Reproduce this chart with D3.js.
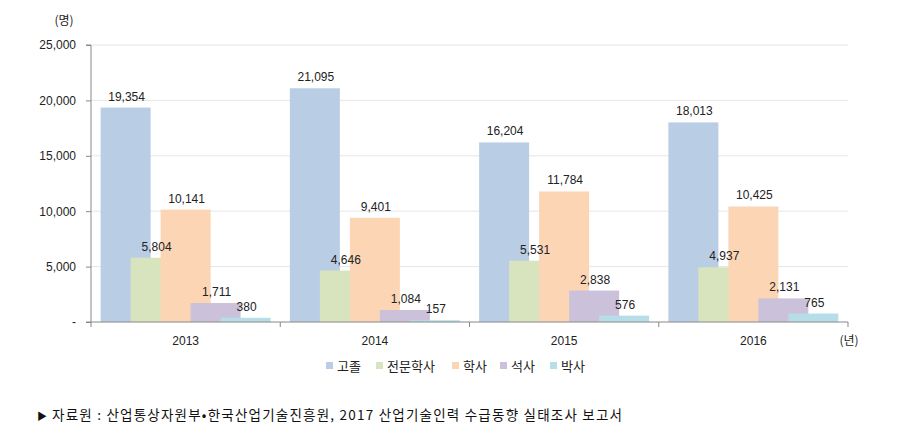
<!DOCTYPE html>
<html>
<head>
<meta charset="utf-8">
<script src="https://cdn.jsdelivr.net/npm/d3@7"></script>
<style>
  body { margin: 0; background: #fff; }
  svg { display: block; }
</style>
</head>
<body>
<div id="chart"></div>
<script>
const years = ['2013', '2014', '2015', '2016'];
const seriesNames = ['고졸', '전문학사', '학사', '석사', '박사'];
const seriesColors = ['#B9CDE5', '#D7E4BD', '#FCD5B5', '#CCC1DA', '#B7DEE8'];
const highSchool = [19354, 21095, 16204, 18013];
const college = [5804, 4646, 5531, 4937];
const bachelor = [10141, 9401, 11784, 10425];
const master = [1711, 1084, 2838, 2131];
const doctor = [380, 157, 576, 765];
const yTicks = [0, 5000, 10000, 15000, 20000, 25000];

const seriesValues = [highSchool, college, bachelor, master, doctor];

const width = 913, height = 441;
const plotLeft = 91, plotRight = 848, plotTop = 45, plotBottom = 322;
const fontNum = '"Liberation Sans", Arial, sans-serif';
const fontKr = '"Noto Sans CJK KR", sans-serif';

const svg = d3.select('#chart')
  .append('svg')
    .attr('width', width)
    .attr('height', height);

const xScale = d3.scaleBand()
  .domain(years)
  .range([plotLeft, plotRight])
  .padding(0);

const yScale = d3.scaleLinear()
  .domain([0, 25000])
  .range([plotBottom, plotTop]);

// bars overlap: each 50 wide, shifted 30 from the previous
const barW = 50, barStep = 30;
const groupW = barStep * (seriesNames.length - 1) + barW;
const barX = (year, s) => xScale(year) + (xScale.bandwidth() - groupW) / 2 + s * barStep;

// grid lines
svg.append('g')
  .selectAll('line')
  .data(yTicks.filter(d => d > 0))
  .enter()
  .append('line')
    .attr('x1', plotLeft)
    .attr('x2', plotRight)
    .attr('y1', d => yScale(d))
    .attr('y2', d => yScale(d))
    .attr('stroke', '#e6e6e6')
    .attr('stroke-width', 1);

// y axis
const yAxis = svg.append('g')
  .attr('transform', `translate(${plotLeft},0)`)
  .call(d3.axisLeft(yScale)
    .tickValues(yTicks)
    .tickSize(5)
    .tickPadding(10)
    .tickFormat(d => d === 0 ? '-' : d3.format(',')(d)));
yAxis.select('.domain').attr('stroke', '#888').attr('d', `M-5,${plotTop}H0V${plotBottom}H-5`);
yAxis.selectAll('.tick line').attr('stroke', '#888');
yAxis.selectAll('.tick text')
  .style('font-family', fontNum)
  .style('font-size', '12px')
  .attr('fill', '#222');

// bars, drawn series by series so later ones sit on top
seriesValues.forEach((vals, s) => {
  svg.append('g')
    .selectAll('rect')
    .data(vals)
    .enter()
    .append('rect')
      .attr('x', (d, i) => barX(years[i], s))
      .attr('y', d => yScale(d))
      .attr('width', barW)
      .attr('height', d => yScale(0) - yScale(d))
      .attr('fill', seriesColors[s]);
});

// value labels
seriesValues.forEach((vals, s) => {
  svg.append('g')
    .selectAll('text')
    .data(vals)
    .enter()
    .append('text')
      .attr('x', (d, i) => barX(years[i], s) + barW / 2 + 1)
      .attr('y', d => yScale(d) - 7)
      .attr('text-anchor', 'middle')
      .style('font-family', fontNum)
      .style('font-size', '12px')
      .attr('fill', '#222')
      .text(d => d3.format(',')(d));
});

// x axis
const xAxis = svg.append('g')
  .attr('transform', `translate(0,${plotBottom})`)
  .call(d3.axisBottom(xScale).tickSize(0).tickPadding(14));
xAxis.select('.domain').attr('stroke', '#888').attr('d', `M${plotLeft},0H${plotRight}`);
xAxis.selectAll('.tick text')
  .style('font-family', fontNum)
  .style('font-size', '12px')
  .attr('fill', '#222');
svg.append('g')
  .selectAll('line')
  .data(years.concat(['end']))
  .enter()
  .append('line')
    .attr('x1', d => d === 'end' ? plotRight : xScale(d))
    .attr('x2', d => d === 'end' ? plotRight : xScale(d))
    .attr('y1', plotBottom)
    .attr('y2', plotBottom + 5)
    .attr('stroke', '#888');

// units
svg.append('text')
  .attr('x', 64)
  .attr('y', 25)
  .attr('text-anchor', 'middle')
  .style('font-family', fontKr)
  .style('font-size', '12px')
  .attr('fill', '#222')
  .text('(명)');
svg.append('text')
  .attr('x', 849)
  .attr('y', 345)
  .attr('text-anchor', 'middle')
  .style('font-family', fontKr)
  .style('font-size', '12px')
  .attr('fill', '#222')
  .text('(년)');

// legend
const legendX = [326, 376, 452, 500, 550];
const legend = svg.append('g')
  .selectAll('g')
  .data(seriesNames)
  .enter()
  .append('g')
    .attr('transform', (d, i) => `translate(${legendX[i]},362)`);
legend.append('rect')
  .attr('width', 7)
  .attr('height', 7)
  .attr('fill', (d, i) => seriesColors[i]);
legend.append('text')
  .attr('x', 11)
  .attr('y', 8.5)
  .style('font-family', fontKr)
  .style('font-size', '13px')
  .attr('fill', '#222')
  .text(d => d);

// source note
svg.append('text')
  .attr('x', 37)
  .attr('y', 420)
  .style('font-family', fontKr)
  .style('font-size', '10px')
  .attr('fill', '#111')
  .text('▶');
svg.append('text')
  .attr('x', 52)
  .attr('y', 420)
  .attr('textLength', 570)
  .attr('lengthAdjust', 'spacing')
  .style('font-family', fontKr)
  .style('font-size', '13.5px')
  .attr('fill', '#111')
  .text('자료원 : 산업통상자원부•한국산업기술진흥원, 2017 산업기술인력  수급동향  실태조사  보고서');
</script>
</body>
</html>
